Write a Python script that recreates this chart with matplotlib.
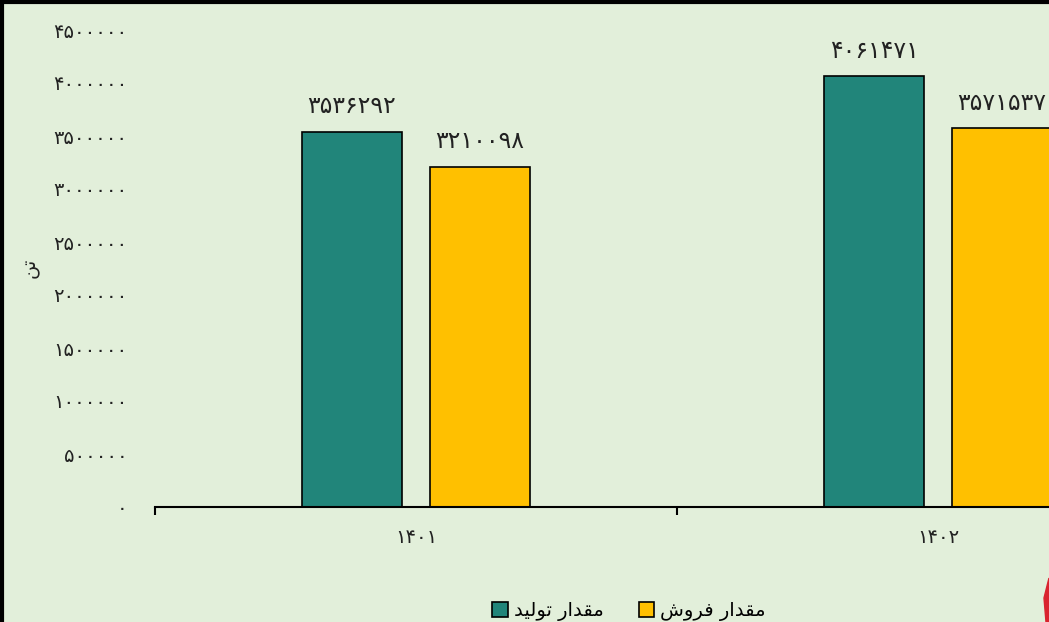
import numpy as np
import matplotlib
matplotlib.use("Agg")
import matplotlib.pyplot as plt
from matplotlib.patches import Patch, Rectangle, Polygon

# ---------------- data ----------------
years = ["1401", "1402"]
production = [3536292, 4061471]   # مقدار تولید
sales = [3210098, 3571537]        # مقدار فروش
yticks = [0, 500000, 1000000, 1500000, 2000000, 2500000, 3000000, 3500000, 4000000, 4500000]

BG = "#e2efda"
TEAL = "#21857a"
YELLOW = "#ffc000"

# ---------- small persian helpers (no shaping engine in matplotlib) ----------
FA_DIGITS = str.maketrans("0123456789", "۰۱۲۳۴۵۶۷۸۹")

def fa_num(v):
    return str(v).translate(FA_DIGITS)

# isolated, final, initial, medial
FORMS = {
    "ا": ("\uFE8D", "\uFE8E", None, None),
    "د": ("\uFEA9", "\uFEAA", None, None),
    "ر": ("\uFEAD", "\uFEAE", None, None),
    "و": ("\uFEED", "\uFEEE", None, None),
    "ت": ("\uFE95", "\uFE96", "\uFE97", "\uFE98"),
    "ش": ("\uFEB5", "\uFEB6", "\uFEB7", "\uFEB8"),
    "ف": ("\uFED1", "\uFED2", "\uFED3", "\uFED4"),
    "ق": ("\uFED5", "\uFED6", "\uFED7", "\uFED8"),
    "ل": ("\uFEDD", "\uFEDE", "\uFEDF", "\uFEE0"),
    "م": ("\uFEE1", "\uFEE2", "\uFEE3", "\uFEE4"),
    "ن": ("\uFEE5", "\uFEE6", "\uFEE7", "\uFEE8"),
    "ی": ("\uFBFC", "\uFBFD", "\uFBFE", "\uFBFF"),
}

def fa(text):
    out = []
    for i, ch in enumerate(text):
        if ch not in FORMS:
            out.append(ch)
            continue
        prev = text[i - 1] if i > 0 else None
        nxt = text[i + 1] if i + 1 < len(text) else None
        join_prev = prev in FORMS and FORMS[prev][2] is not None
        join_next = FORMS[ch][2] is not None and nxt in FORMS
        if join_prev and join_next:
            out.append(FORMS[ch][3])
        elif join_prev:
            out.append(FORMS[ch][1])
        elif join_next:
            out.append(FORMS[ch][2])
        else:
            out.append(FORMS[ch][0])
    return "".join(reversed(out))

plt.rcParams["font.family"] = ["DejaVu Sans"]

# ---------------- figure ----------------
fig = plt.figure(figsize=(10.49, 6.22), dpi=100, facecolor=BG)
# plot area runs past the right edge, like the cropped original
ax = fig.add_axes([155 / 1049, 115 / 622, 1044 / 1049, 477 / 622])
ax.set_facecolor(BG)

x = np.arange(len(years))
w = 0.19
off = 0.1226
b1 = ax.bar(x - off, production, w, color=TEAL, edgecolor="black", linewidth=1.2,
            label=fa("مقدار تولید"))
b2 = ax.bar(x + off, sales, w, color=YELLOW, edgecolor="black", linewidth=1.2,
            label=fa("مقدار فروش"))

for bars in (b1, b2):
    ax.bar_label(bars, labels=[fa_num(v) for v in bars.datavalues], padding=10,
                 fontsize=17, color="#222222")

ax.set_xlim(-0.5, 1.5)
ax.set_ylim(0, 4500000)
ax.set_yticks(yticks)
ax.set_yticklabels([fa_num(v) for v in yticks], fontsize=14, color="#222222")
ax.set_xticks(x)
ax.set_xticklabels([fa_num(y) for y in years], fontsize=14, color="#222222")
ax.set_xticks([-0.5, 0.5, 1.5], minor=True)
ax.tick_params(axis="x", which="major", length=0, pad=15)
ax.tick_params(axis="x", which="minor", length=6, width=1.5, direction="out")
ax.tick_params(axis="y", length=0, pad=20)

for s in ("top", "right", "left"):
    ax.spines[s].set_visible(False)
ax.spines["bottom"].set_linewidth(1.5)

fig.text(30 / 1049, 1 - 268 / 622, fa("تن"), rotation=90, fontsize=14,
         ha="center", va="center", color="#222222")

handles = [Patch(facecolor=TEAL, edgecolor="black", linewidth=1.2),
           Patch(facecolor=YELLOW, edgecolor="black", linewidth=1.2)]
fig.legend(handles, [fa("مقدار تولید"), fa("مقدار فروش")], loc="center",
           bbox_to_anchor=(629 / 1049, 1 - 611 / 622), ncol=2, frameon=False,
           fontsize=14, handlelength=0.8, handleheight=0.8, handletextpad=0.3,
           columnspacing=1.8)

# outer frame (only left and top edges fall inside the crop)
fig.patches.append(Rectangle((1.5 / 1049, -0.2), 1.3, 1.2 - 1.5 / 622, transform=fig.transFigure,
                             fill=False, edgecolor="black", linewidth=3))
# bit of red logo at the corner
fig.patches.append(Polygon([[1044 / 1049, 1 - 598 / 622], [1049 / 1049, 1 - 578 / 622],
                            [1049 / 1049, 0], [1046 / 1049, 0]],
                           closed=True, transform=fig.transFigure, color="#d9232e"))

fig.savefig("out.png", dpi=100, facecolor=BG)
